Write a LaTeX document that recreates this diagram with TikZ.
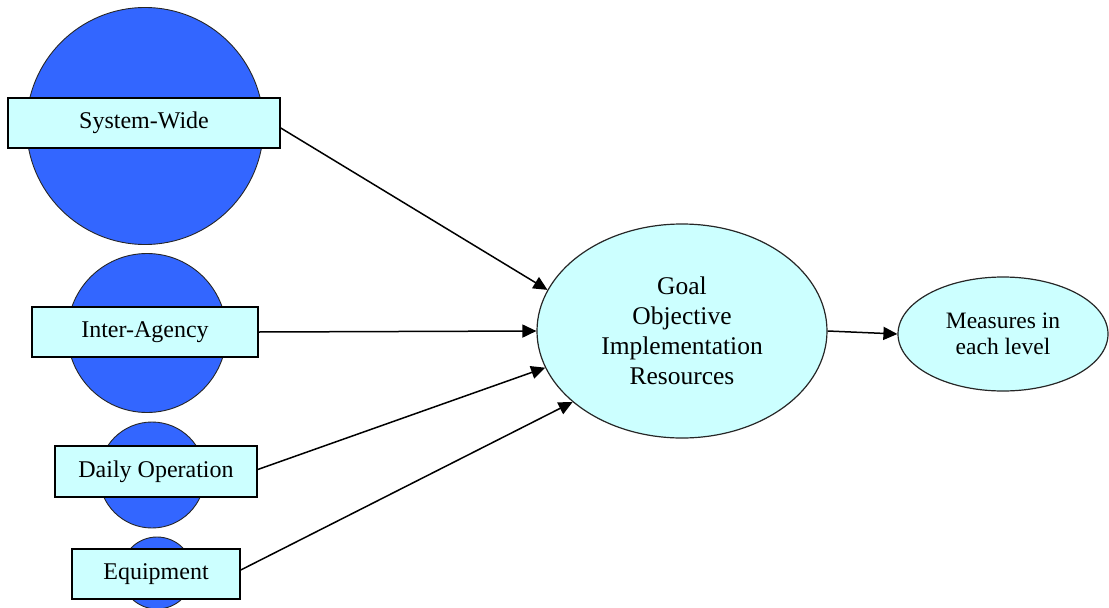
\documentclass[tikz,border=0pt]{standalone}
\usepackage{fontspec}
\setmainfont{Liberation Serif}
\usetikzlibrary{arrows.meta,shapes.geometric}

\definecolor{discblue}{HTML}{3366FF}
\definecolor{palecyan}{HTML}{CCFFFF}

\tikzset{
  disc/.style={circle, draw=black!85, line width=0.9pt, fill=discblue, inner sep=0pt},
  levelbox/.style={rectangle, draw=black, line width=1.5pt, fill=palecyan, inner sep=0pt,
    minimum height=50pt, font=\fontsize{24}{28}\selectfont},
  bigoval/.style={ellipse, draw=black!85, line width=1.2pt, fill=palecyan, inner sep=0pt,
    align=center},
  link/.style={line width=1.5pt, -{Triangle[length=14pt,width=13pt]}}
}

\begin{document}
\begin{tikzpicture}[x=1pt, y=-1pt]
  \useasboundingbox (0,0) rectangle (1109,608);

  % level discs behind the labels
  \node[disc, minimum size=237pt] (c1) at (145,126) {};
  \node[disc, minimum size=159pt] (c2) at (147,333) {};
  \node[disc, minimum size=106pt] (c3) at (152,475) {};
  \node[disc, minimum size=72pt]  (c4) at (157,573) {};

  % level labels
  \node[levelbox, minimum width=272pt] (b1) at (144,123) {System-Wide};
  \node[levelbox, minimum width=226pt] (b2) at (145,332) {Inter-Agency};
  \node[levelbox, minimum width=202pt, minimum height=51pt] (b3) at (156,471.5) {Daily Operation};
  \node[levelbox, minimum width=168pt] (b4) at (156,574) {Equipment};

  % central and result ovals
  \node[bigoval, minimum width=290pt, minimum height=214pt,
        font=\fontsize{25.5}{30}\selectfont] (g) at (682,331)
        {Goal\\Objective\\Implementation\\Resources};
  \node[bigoval, minimum width=210pt, minimum height=114pt,
        font=\fontsize{23.5}{26}\selectfont] (m) at (1003,334)
        {Measures in\\each level};

  % connectors
  \draw[link] ([yshift=-5pt]b1.east) -- (g.163);
  \draw[link] (b2.east) -- (g.180);
  \draw[link] ([yshift=2pt]b3.east) -- (g.195);
  \draw[link] ([yshift=4pt]b4.east) -- (g.213);
  \draw[link] (g.east) -- (m.west);
\end{tikzpicture}
\end{document}
